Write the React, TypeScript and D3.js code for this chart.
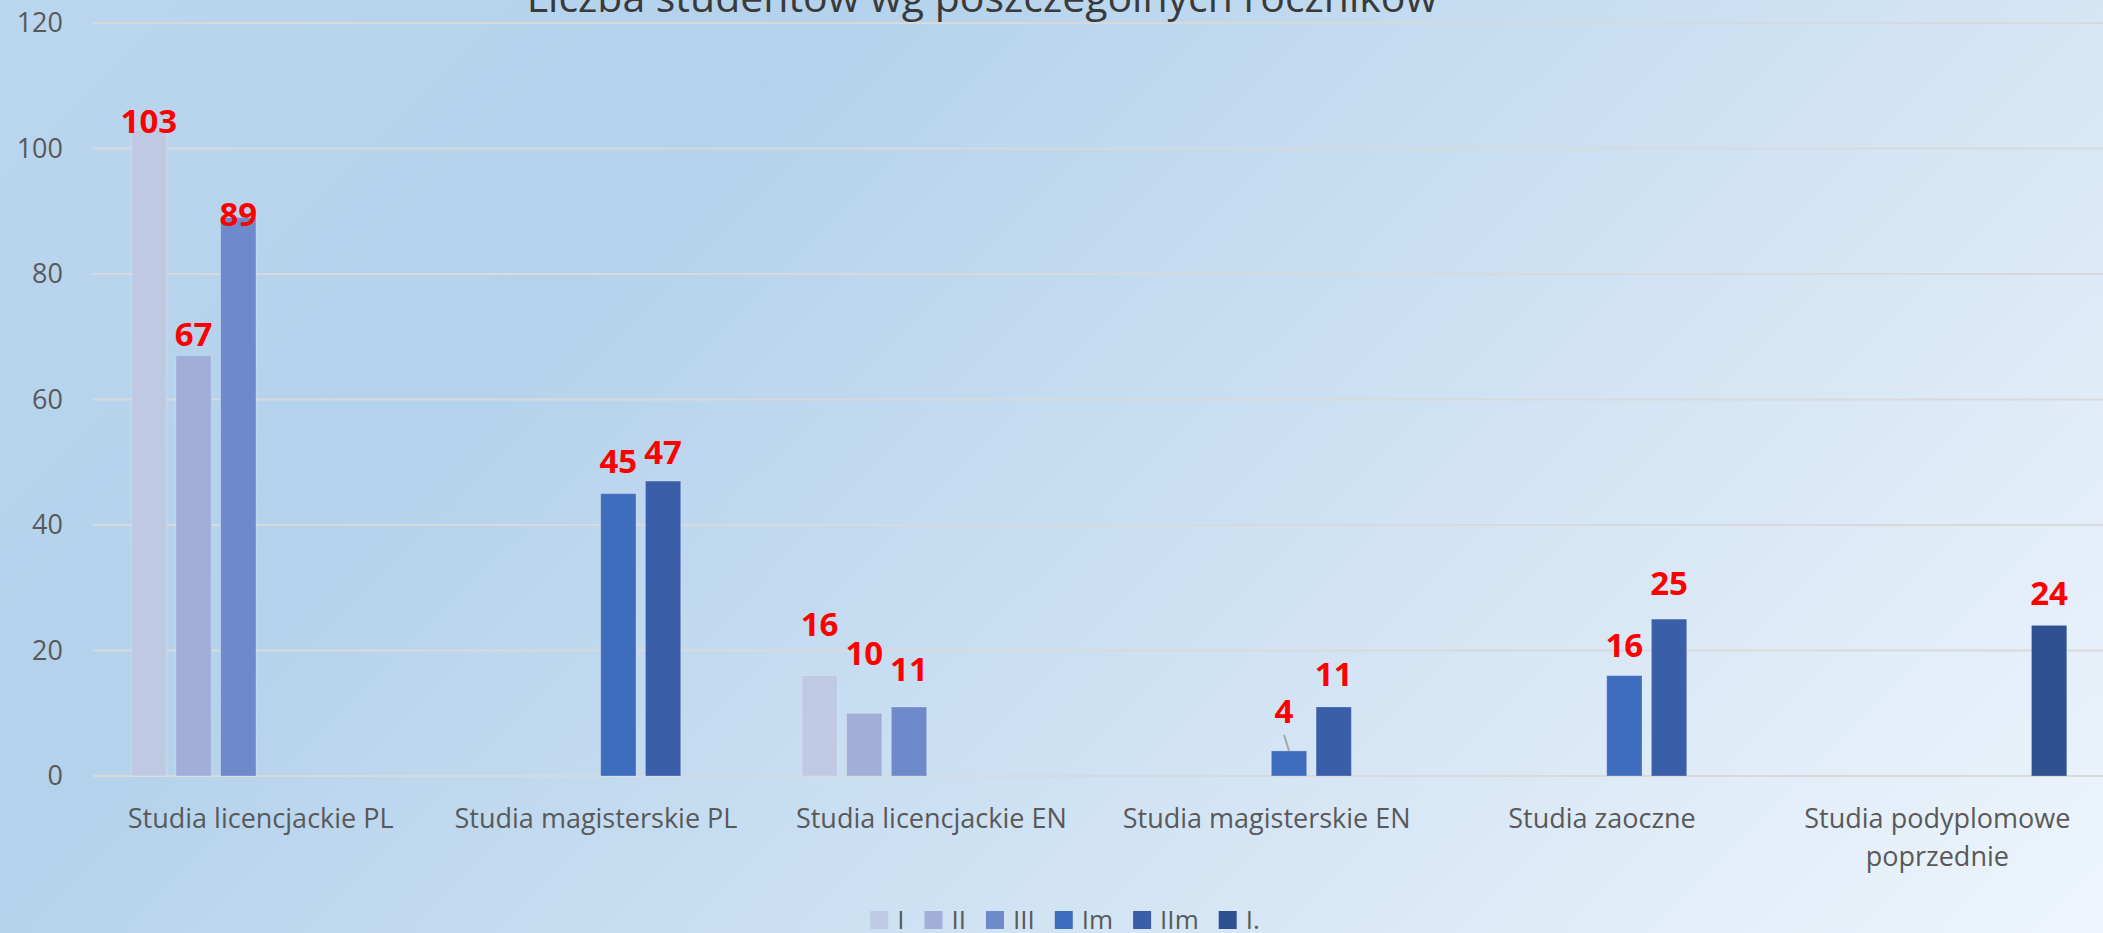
import React from 'react';
import * as d3 from 'd3';

// ---------- data ----------
const categories = [
  'Studia licencjackie PL',
  'Studia magisterskie PL',
  'Studia licencjackie EN',
  'Studia magisterskie EN',
  'Studia zaoczne',
  'Studia podyplomowe poprzednie',
];
const seriesNames = ['I', 'II', 'III', 'Im', 'IIm', 'I.'];
const valuesI: (number | null)[] = [103, null, 16, null, null, null];
const valuesII: (number | null)[] = [67, null, 10, null, null, null];
const valuesIII: (number | null)[] = [89, null, 11, null, null, null];
const valuesIm: (number | null)[] = [null, 45, null, 4, 16, null];
const valuesIIm: (number | null)[] = [null, 47, null, 11, 25, null];
const valuesIdot: (number | null)[] = [null, null, null, null, null, 24];
const yTicks = [0, 20, 40, 60, 80, 100, 120];
const title = 'Liczba studentów wg poszczególnych roczników';

const allSeries = [valuesI, valuesII, valuesIII, valuesIm, valuesIIm, valuesIdot];

// ---------- layout / style ----------
const W = 2103;
const H = 933;
const plotLeft = 93;
const plotRight = 2105;
const plotTop = 23;
const plotBottom = 776;
const colors = ['#BFC9E3', '#A0AED8', '#6E8ACB', '#3F6DBD', '#3A5EA7', '#2E5190'];
const FONT = '"Open Sans", "DejaVu Sans", sans-serif';
// manual label placement (baseline offset from bar top, px), as in the original chart
const labelGap = [
  [3, 0, -40, 0, 0, 0],
  [-10, 0, -48, 0, 0, 0],
  [8, 0, -26, 0, 0, 0],
  [0, -21, 0, -28, -19, 0],
  [0, -17, 0, -21, -24, 0],
  [0, 0, 0, 0, 0, -20],
];
const labelDx = [
  [0, 0, 0, 0, 0, 0],
  [0, 0, 0, 0, 0, 0],
  [0, 0, 0, 0, 0, 0],
  [0, 0, 0, -5, 0, 0],
  [0, 0, 0, 0, 0, 0],
  [0, 0, 0, 0, 0, 0],
];
const leader = [[3, 3]]; // [series, category] with leader lines

const canvas = typeof document !== 'undefined' ? document.createElement('canvas') : null;
const ctx = canvas ? canvas.getContext('2d') : null;
function measure(text: string, font: string): number {
  if (!ctx) return text.length * 12;
  ctx.font = font;
  return ctx.measureText(text).width;
}
function wrap(text: string, font: string, maxW: number): string[] {
  const words = text.split(' ');
  const lines: string[] = [];
  let cur = '';
  for (const w of words) {
    const t = cur ? cur + ' ' + w : w;
    if (measure(t, font) > maxW && cur) {
      lines.push(cur);
      cur = w;
    } else cur = t;
  }
  if (cur) lines.push(cur);
  return lines;
}

export default function App() {
  const x0 = d3.scaleBand<number>()
    .domain(d3.range(categories.length))
    .range([plotLeft, plotRight])
    .paddingInner(0.2)
    .paddingOuter(0.1);
  const x1 = d3.scaleBand<number>()
    .domain(d3.range(seriesNames.length))
    .range([0, x0.bandwidth()])
    .paddingInner(0.21)
    .paddingOuter(0.105);
  const y = d3.scaleLinear().domain([0, 120]).range([plotBottom, plotTop]);

  const axisFont = `27px ${FONT}`;
  const legendFont = `26px ${FONT}`;
  const step = x0.step();

  // legend layout
  const sq = 18;
  const legendItems = seriesNames.map((n) => sq + 9 + measure(n, legendFont));
  const legendGapPx = 20;
  const legendTotal = d3.sum(legendItems) + legendGapPx * (legendItems.length - 1);
  const legendCenter = 1065;
  let lx = legendCenter - legendTotal / 2;
  const legendPos = legendItems.map((w) => {
    const p = lx;
    lx += w + legendGapPx;
    return p;
  });

  return (
    <svg
      width={W}
      height={H}
      style={{ position: 'absolute', left: 0, top: 0, display: 'block' }}
      fontFamily={FONT}
    >
      <defs>
        <linearGradient id="bg" gradientUnits="userSpaceOnUse" x1={0} y1={0} x2={1518} y2={1518}>
          <stop offset="0" stopColor="#BBD6EF" />
          <stop offset="0.28" stopColor="#B4D2EC" />
          <stop offset="0.7" stopColor="#D6E6F5" />
          <stop offset="1" stopColor="#EEF5FC" />
        </linearGradient>
      </defs>
      <rect x={0} y={0} width={W} height={H} fill="url(#bg)" />

      {/* gridlines */}
      {yTicks.map((t) => (
        <line
          key={'g' + t}
          x1={plotLeft}
          x2={W}
          y1={y(t)}
          y2={y(t)}
          stroke="#D9D9D9"
          strokeWidth={2}
        />
      ))}
      {/* y tick labels */}
      {yTicks.map((t) => (
        <text
          key={'yt' + t}
          x={63}
          y={y(t)}
          dy="0.35em"
          textAnchor="end"
          fontSize={27}
          fill="#595959"
        >
          {t}
        </text>
      ))}

      {/* bars */}
      {allSeries.map((vals, si) =>
        vals.map((v, ci) =>
          v == null ? null : (
            <rect
              key={`b${si}-${ci}`}
              x={(x0(ci) as number) + (x1(si) as number)}
              y={y(v)}
              width={x1.bandwidth()}
              height={y(0) - y(v)}
              fill={colors[si]}
              stroke="rgba(255,255,255,0.25)"
              strokeWidth={1}
            />
          )
        )
      )}

      {/* leader lines */}
      {leader.map(([si, ci]) => {
        const v = allSeries[si][ci] as number;
        const cx = (x0(ci) as number) + (x1(si) as number) + x1.bandwidth() / 2;
        const by = y(v) + labelGap[si][ci];
        return (
          <line
            key={`ll${si}-${ci}`}
            x1={cx + labelDx[si][ci]}
            y1={by + 12}
            x2={cx}
            y2={y(v)}
            stroke="#A6A6A6"
            strokeWidth={2}
          />
        );
      })}

      {/* data labels */}
      {allSeries.map((vals, si) =>
        vals.map((v, ci) =>
          v == null ? null : (
            <text
              key={`l${si}-${ci}`}
              x={(x0(ci) as number) + (x1(si) as number) + x1.bandwidth() / 2 + labelDx[si][ci]}
              y={y(v) + labelGap[si][ci]}
              textAnchor="middle"
              fontSize={33}
              fontWeight="bold"
              fill="#FF0000"
            >
              {v}
            </text>
          )
        )
      )}

      {/* category labels */}
      {categories.map((c, ci) => {
        const lines = wrap(c, axisFont, step - 10);
        const cx = (x0(ci) as number) + x0.bandwidth() / 2;
        return (
          <text key={'c' + ci} textAnchor="middle" fontSize={27} fill="#595959">
            {lines.map((ln, i) => (
              <tspan key={i} x={cx} y={plotBottom + 52 + i * 38}>
                {ln}
              </tspan>
            ))}
          </text>
        );
      })}

      {/* title (partly cut off at top) */}
      <text x={982} y={12} textAnchor="middle" fontSize={41} fill="#3A3A3A">
        {title}
      </text>

      {/* legend */}
      {seriesNames.map((n, i) => (
        <g key={'lg' + i} transform={`translate(${legendPos[i]},0)`}>
          <rect x={0} y={911} width={sq} height={sq} fill={colors[i]} />
          <text x={sq + 9} y={929} fontSize={26} fill="#595959">
            {n}
          </text>
        </g>
      ))}
    </svg>
  );
}
